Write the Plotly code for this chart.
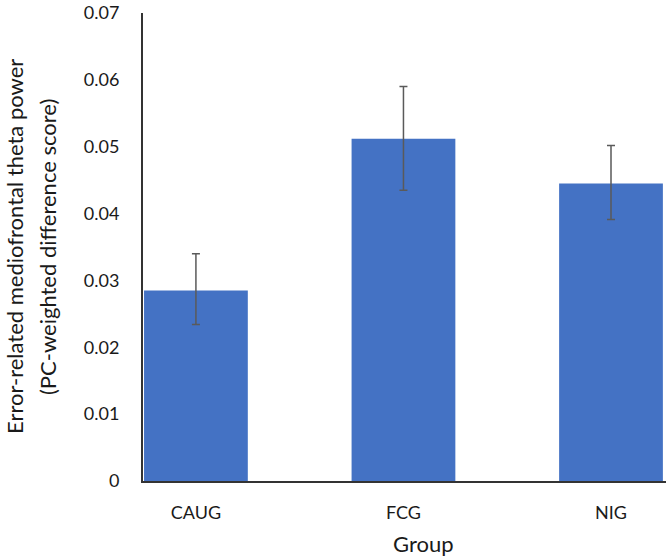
import plotly.graph_objects as go

groups = ["CAUG", "FCG", "NIG"]
means = [0.0285, 0.0512, 0.0445]
err_plus = [0.0055, 0.0078, 0.0057]
err_minus = [0.0051, 0.0077, 0.0054]
y_ticks = [0, 0.01, 0.02, 0.03, 0.04, 0.05, 0.06, 0.07]
y_tick_labels = ["0", "0.01", "0.02", "0.03", "0.04", "0.05", "0.06", "0.07"]

FONT = "Lato, 'Open Sans', sans-serif"

fig = go.Figure()
fig.add_trace(go.Bar(
    x=groups, y=means,
    marker=dict(color="#4472C4", line=dict(width=0)),
    width=0.5,
    error_y=dict(type="data", array=err_plus, arrayminus=err_minus,
                 color="#5a5a5a", thickness=1.5, width=4),
))

fig.update_layout(
    width=666, height=559,
    margin=dict(l=143, r=0, t=13, b=78),
    paper_bgcolor="white", plot_bgcolor="white",
    showlegend=False,
    font=dict(family=FONT, color="#1a1a1a"),
)
fig.update_xaxes(
    range=[-0.255, 2.265],
    showline=True, linecolor="#333333", linewidth=2,
    showgrid=False, ticks="", ticklabelstandoff=14,
    tickfont=dict(size=18, family=FONT, color="#1a1a1a"),
)
fig.update_yaxes(
    range=[0, 0.07], tickvals=y_ticks, ticktext=y_tick_labels,
    showline=True, linecolor="#333333", linewidth=2,
    showgrid=False, zeroline=False, ticks="", ticklabelstandoff=18,
    tickfont=dict(size=18, family=FONT, color="#1a1a1a"),
)

fig.add_annotation(text="Group", xref="paper", yref="paper",
                   x=(423 - 143) / 523, y=-(543 - 481) / 468,
                   showarrow=False, xanchor="center", yanchor="middle",
                   font=dict(size=22, family=FONT, color="#1a1a1a"))
fig.add_annotation(text="Error-related mediofrontal theta power",
                   xref="paper", yref="paper",
                   x=-(143 - 14) / 523, y=0.5, textangle=-90,
                   showarrow=False, xanchor="center", yanchor="middle",
                   font=dict(size=22, family=FONT, color="#1a1a1a"))
fig.add_annotation(text="(PC-weighted difference score)",
                   xref="paper", yref="paper",
                   x=-(143 - 47) / 523, y=0.5, textangle=-90,
                   showarrow=False, xanchor="center", yanchor="middle",
                   font=dict(size=22, family=FONT, color="#1a1a1a"))

fig.write_html("out.html",
               config={"displayModeBar": False},
               post_script="document.body.style.margin='0';document.body.style.overflow='hidden';")
